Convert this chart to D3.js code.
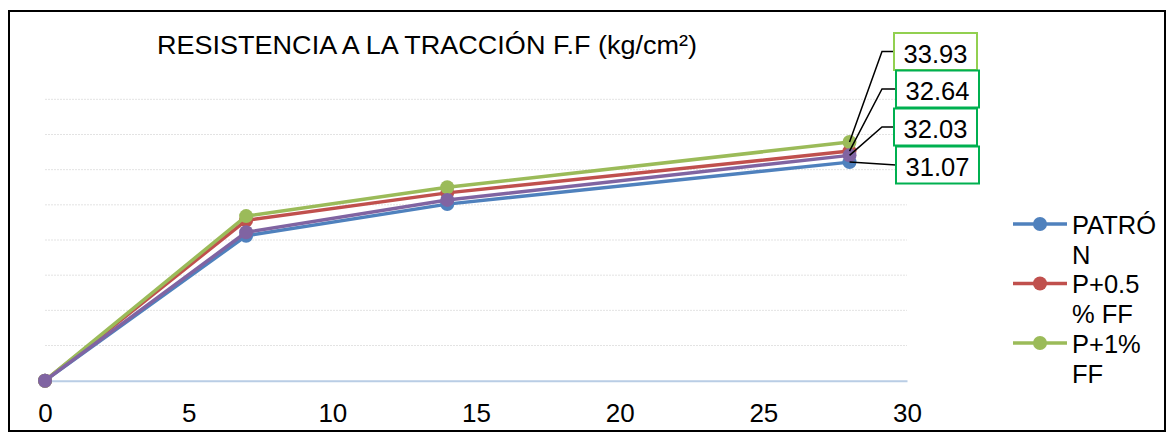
<!DOCTYPE html>
<html>
  <head>
    <meta charset="utf-8">
    <title>traccion</title>
    <style>
    body{margin:0;background:#fff}
    svg text{font-family:"Liberation Sans",Arial,sans-serif;fill:#000}
    </style>
  </head>
  <body>
    <svg width="1174" height="439"></svg>
    <script src="https://d3js.org/d3.v7.min.js"></script>
    <script>

    // edades (dias)
    var dias = [0, 7, 14, 28];
    var patron = [0, 20.6, 25.1, 31.07];
    var p05 = [0, 22.8, 26.7, 32.64];
    var p1 = [0, 23.4, 27.5, 33.93];
    var p15 = [0, 21.1, 25.7, 32.03];
    var xTicks = [0, 5, 10, 15, 20, 25, 30];
    var yTicks = [0, 5, 10, 15, 20, 25, 30, 35, 40];
    var titulo = "RESISTENCIA A LA TRACCIÓN F.F (kg/cm²)";

    var series = [
      {name: "PATRÓN", vals: patron, color: "#4f81bd", legend: ["PATRÓ", "N"], box: "#00b050"},
      {name: "P+0.5% FF", vals: p05, color: "#c0504d", legend: ["P+0.5", "% FF"], box: "#00b050"},
      {name: "P+1% FF", vals: p1, color: "#9bbb59", legend: ["P+1%", "FF"], box: "#92d050"},
      {name: "P+1.5% FF", vals: p15, color: "#8064a2", legend: null, box: "#00b050"}
    ];

    var svg = d3.select("svg");

    // marco
    svg.append("rect").attr("x", 9).attr("y", 11).attr("width", 1156).attr("height", 420)
      .attr("fill", "none").attr("stroke", "#000").attr("stroke-width", 2);

    var x = d3.scaleLinear().domain([0, 30]).range([45, 907]);
    var y = d3.scaleLinear().domain([0, 40]).range([380.7, 99.3]);

    // grid
    svg.append("g").selectAll("line").data(yTicks.slice(1)).enter().append("line")
      .attr("x1", x(0)).attr("x2", x(30))
      .attr("y1", function(d) { return y(d); }).attr("y2", function(d) { return y(d); })
      .attr("stroke", "#e3e3e3").attr("stroke-width", 1).attr("stroke-dasharray", "2,1");

    // eje x
    var ax = svg.append("g").attr("transform", "translate(0," + y(0) + ")")
      .call(d3.axisBottom(x).tickValues(xTicks).tickSize(0).tickPadding(14));
    ax.select(".domain").attr("stroke", "#b9cde5").attr("stroke-width", 2);
    ax.selectAll("text").attr("font-size", 26).attr("font-family", "Liberation Sans, Arial")
      .attr("fill", "#000").attr("dy", null).attr("y", 41);

    // titulo
    svg.append("text").attr("x", 157).attr("y", 54).attr("font-size", 26.5)
      .attr("textLength", 540).attr("lengthAdjust", "spacingAndGlyphs").text(titulo);

    var line = d3.line().x(function(d, i) { return x(dias[i]); }).y(function(d) { return y(d); });

    series.forEach(function(s) {
      svg.append("path").datum(s.vals).attr("d", line)
        .attr("fill", "none").attr("stroke", s.color).attr("stroke-width", 3.5)
        .attr("stroke-linejoin", "round");
      svg.append("g").selectAll("circle").data(s.vals).enter().append("circle")
        .attr("cx", function(d, i) { return x(dias[i]); })
        .attr("cy", function(d) { return y(d); })
        .attr("r", 7).attr("fill", s.color);
    });

    // etiquetas del ultimo punto
    var cajas = [
      {s: 2, top: 33, left: 894},
      {s: 1, top: 70.5, left: 896},
      {s: 3, top: 108.5, left: 894},
      {s: 0, top: 146.5, left: 896}
    ];
    cajas.forEach(function(c, k) {
      var s = series[c.s];
      var v = s.vals[3];
      var px = x(dias[3]), py = y(v);
      var my = c.top + 18.5;
      var pts = k < 3 ? [[px, py], [882, my], [c.left, my]] : [[px, py], [c.left, my]];
      svg.append("path").attr("d", d3.line()(pts)).attr("fill", "none")
        .attr("stroke", "#000").attr("stroke-width", 1.5);
      svg.append("rect").attr("x", c.left).attr("y", c.top).attr("width", 83).attr("height", 37)
        .attr("fill", "#fff").attr("stroke", s.box).attr("stroke-width", 2);
      svg.append("text").attr("x", c.left + 41.5).attr("y", c.top + 29.5)
        .attr("text-anchor", "middle").attr("font-size", 25.5).text(d3.format(".2f")(v));
    });

    // leyenda
    var leg = svg.append("g");
    series.filter(function(s) { return s.legend; }).forEach(function(s, i) {
      var ly = 224 + i * 59.5;
      leg.append("line").attr("x1", 1013).attr("x2", 1067).attr("y1", ly).attr("y2", ly)
        .attr("stroke", s.color).attr("stroke-width", 3.5);
      leg.append("circle").attr("cx", 1040).attr("cy", ly).attr("r", 7).attr("fill", s.color);
      s.legend.forEach(function(t, j) {
        leg.append("text").attr("x", 1072).attr("y", ly + 9.5 + j * 30).attr("font-size", 25.5).text(t);
      });
    });

    </script>
  </body>
</html>
